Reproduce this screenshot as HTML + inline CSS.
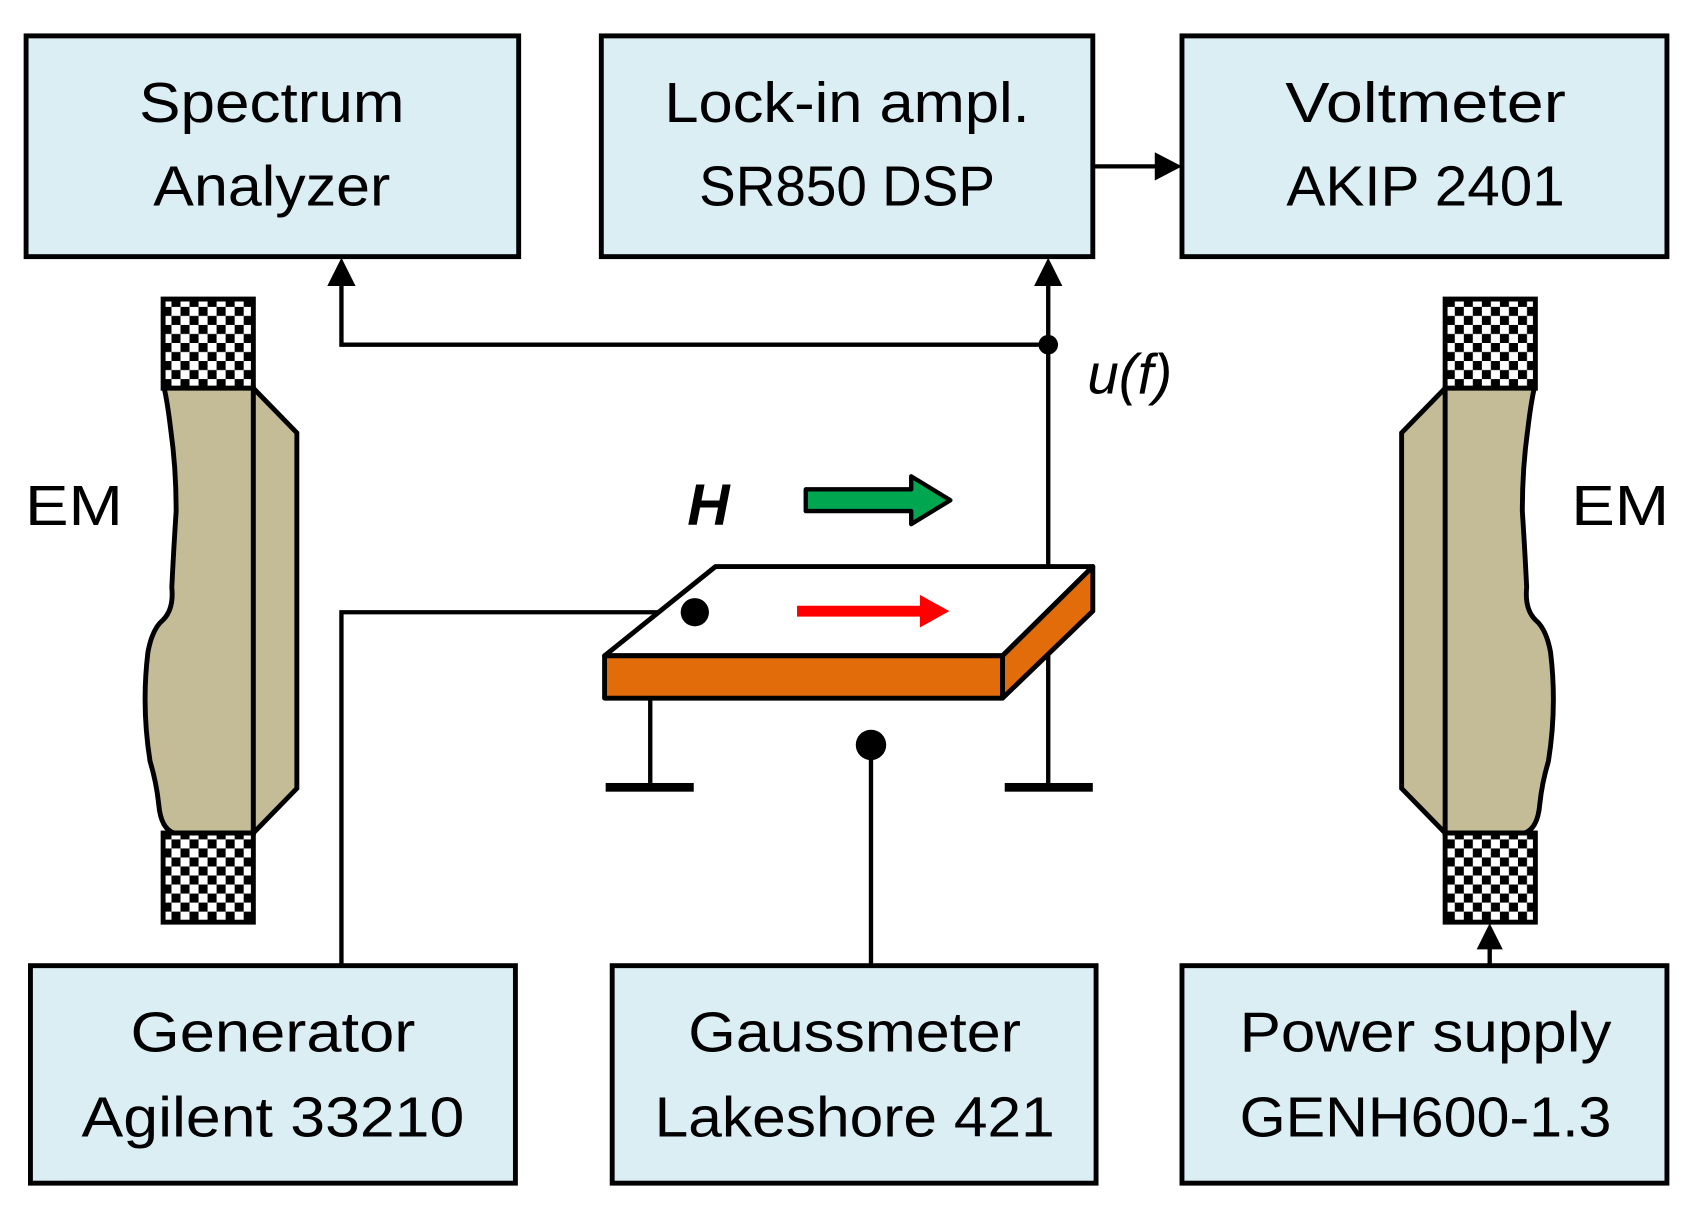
<!DOCTYPE html>
<html><head><style>html,body{margin:0;padding:0;background:#fff}svg{display:block}</style></head>
<body>
<svg width="1705" height="1206" viewBox="0 0 1568 1109" preserveAspectRatio="none" xmlns="http://www.w3.org/2000/svg" font-family="Liberation Sans, sans-serif">
<defs>
<pattern id="ck" width="16.6" height="16.6" patternUnits="userSpaceOnUse">
<rect width="16.6" height="16.6" fill="#fff"/>
<rect width="8.3" height="8.3" fill="#000"/><rect x="8.3" y="8.3" width="8.3" height="8.3" fill="#000"/>
</pattern>
</defs>
<g fill="#DBEEF4" stroke="#000" stroke-width="4.5">
<rect x="24" y="33" width="453" height="203"/>
<rect x="553" y="33" width="452" height="203"/>
<rect x="1087" y="33" width="446" height="203"/>
<rect x="28" y="888" width="446" height="200"/>
<rect x="563" y="888" width="445" height="200"/>
<rect x="1087" y="888" width="446" height="200"/>
</g>
<g font-size="52" text-anchor="middle" fill="#000">
<text x="250" y="112" textLength="244" lengthAdjust="spacingAndGlyphs">Spectrum</text>
<text x="250" y="189" textLength="218" lengthAdjust="spacingAndGlyphs">Analyzer</text>
<text x="779" y="112" textLength="336" lengthAdjust="spacingAndGlyphs">Lock-in ampl.</text>
<text x="779" y="189" textLength="272" lengthAdjust="spacingAndGlyphs">SR850 DSP</text>
<text x="1311" y="112" textLength="258" lengthAdjust="spacingAndGlyphs">Voltmeter</text>
<text x="1311" y="189" textLength="256" lengthAdjust="spacingAndGlyphs">AKIP 2401</text>
<text x="251" y="967" textLength="262" lengthAdjust="spacingAndGlyphs">Generator</text>
<text x="251" y="1045" textLength="352" lengthAdjust="spacingAndGlyphs">Agilent 33210</text>
<text x="786" y="967" textLength="306" lengthAdjust="spacingAndGlyphs">Gaussmeter</text>
<text x="786" y="1045" textLength="368" lengthAdjust="spacingAndGlyphs">Lakeshore 421</text>
<text x="1311" y="967" textLength="342" lengthAdjust="spacingAndGlyphs">Power supply</text>
<text x="1311" y="1045" textLength="342" lengthAdjust="spacingAndGlyphs">GENH600-1.3</text>
<text x="68" y="483" textLength="90" lengthAdjust="spacingAndGlyphs">EM</text>
<text x="1490" y="483" textLength="90" lengthAdjust="spacingAndGlyphs">EM</text>
</g>
<text x="632" y="483" font-size="54" font-weight="bold" font-style="italic">H</text>
<text x="1000" y="362" font-size="52" font-style="italic">u(f)</text>
<g stroke="#000" stroke-width="4" fill="none">
<path d="M1005 153H1068"/>
<path d="M964 520V260M964 317H314V260"/>
<path d="M639 563H314V888"/>
<path d="M598 642V724M964 600V724M801 685V888M1370 888V872"/>
</g>
<g fill="#000">
<polygon points="1087,153 1062,140 1062,166"/>
<polygon points="964,237 951,263 977,263"/>
<polygon points="314,237 301,263 327,263"/>
<polygon points="1370,849 1358,873 1382,873"/>
<circle cx="964" cy="317" r="9"/>
<rect x="557" y="720" width="81" height="8"/>
<rect x="924" y="720" width="81" height="8"/>
<circle cx="801" cy="685" r="14"/>
</g>
<g stroke="#000" stroke-width="4.5" stroke-linejoin="round">
<polygon points="556,603 658,521 1005,521 922,603" fill="#fff"/>
<rect x="556" y="603" width="366" height="39" fill="#E36C0A"/>
<polygon points="922,603 1005,521 1005,562 922,642" fill="#E36C0A"/>
</g>
<circle cx="639" cy="563" r="13" fill="#000"/>
<path d="M733 562H850" stroke="#f00" stroke-width="10"/>
<polygon points="873,562 846,547 846,577" fill="#f00"/>
<polygon points="741,450 838,450 838,438 874,460 838,482 838,470 741,470" fill="#00A650" stroke="#000" stroke-width="4" stroke-linejoin="round"/>
<g stroke="#000" stroke-width="4.5">
<rect x="150" y="275" width="83" height="82" fill="url(#ck)"/>
<rect x="150" y="766" width="83" height="82" fill="url(#ck)"/>
<path d="M151 357 L233 357 L233 766 L160 766 Q148 762 146 740 Q144 720 138 700 Q130 650 136 600 Q140 578 150 570 Q160 560 158 540 Q160 500 162 470 Q162 430 157 395 Q154 370 151 357 Z" fill="#C4BC96"/>
<polygon points="233,357 273,398 273,725 233,766" fill="#C4BC96"/>
</g>
<g stroke="#000" stroke-width="4.5" transform="translate(1562,0) scale(-1,1)">
<rect x="150" y="275" width="83" height="82" fill="url(#ck)"/>
<rect x="150" y="766" width="83" height="82" fill="url(#ck)"/>
<path d="M151 357 L233 357 L233 766 L160 766 Q148 762 146 740 Q144 720 138 700 Q130 650 136 600 Q140 578 150 570 Q160 560 158 540 Q160 500 162 470 Q162 430 157 395 Q154 370 151 357 Z" fill="#C4BC96"/>
<polygon points="233,357 273,398 273,725 233,766" fill="#C4BC96"/>
</g>
</svg>
</body></html>
